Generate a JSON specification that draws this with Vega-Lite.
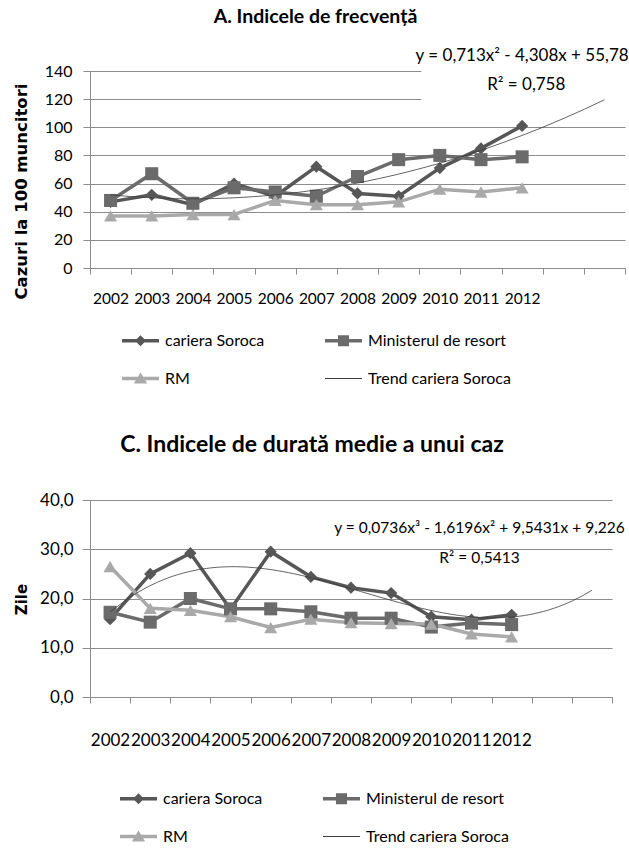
{
  "$schema": "https://vega.github.io/schema/vega-lite/v6.json",
  "background": "white",
  "padding": {"left": 12, "top": 7, "right": 0, "bottom": 0},
  "spacing": 47,
  "resolve": {"scale": {"color": "independent", "shape": "independent", "fill": "independent"}, "legend": {"color": "independent", "shape": "independent", "fill": "independent"}},
  "config": {
    "view": {"stroke": null},
    "font": "Lato",
    "axis": {"labelFont": "Lato", "labelColor": "#000000", "domainColor": "#8c8c8c", "tickColor": "#8c8c8c", "gridColor": "#8c8c8c", "gridOpacity": 1, "domainWidth": 1, "tickWidth": 1, "gridWidth": 1, "labelOverlap": false, "labelFlush": false, "tickCount": 30},
    "legend": {"labelFont": "Lato", "labelColor": "#000000"},
    "title": {"font": "Lato", "color": "#000000"},
    "text": {"font": "Lato"}
  },
  "datasets": {
    "a": [
      {"year": 2002, "series": "cariera Soroca", "value": 47},
      {"year": 2003, "series": "cariera Soroca", "value": 52},
      {"year": 2004, "series": "cariera Soroca", "value": 45},
      {"year": 2005, "series": "cariera Soroca", "value": 60},
      {"year": 2006, "series": "cariera Soroca", "value": 51},
      {"year": 2007, "series": "cariera Soroca", "value": 72},
      {"year": 2008, "series": "cariera Soroca", "value": 53},
      {"year": 2009, "series": "cariera Soroca", "value": 51},
      {"year": 2010, "series": "cariera Soroca", "value": 71},
      {"year": 2011, "series": "cariera Soroca", "value": 85},
      {"year": 2012, "series": "cariera Soroca", "value": 101},
      {"year": 2002, "series": "Ministerul de resort", "value": 48},
      {"year": 2003, "series": "Ministerul de resort", "value": 67},
      {"year": 2004, "series": "Ministerul de resort", "value": 46},
      {"year": 2005, "series": "Ministerul de resort", "value": 57},
      {"year": 2006, "series": "Ministerul de resort", "value": 54},
      {"year": 2007, "series": "Ministerul de resort", "value": 51},
      {"year": 2008, "series": "Ministerul de resort", "value": 65},
      {"year": 2009, "series": "Ministerul de resort", "value": 77},
      {"year": 2010, "series": "Ministerul de resort", "value": 80},
      {"year": 2011, "series": "Ministerul de resort", "value": 77},
      {"year": 2012, "series": "Ministerul de resort", "value": 79},
      {"year": 2002, "series": "RM", "value": 37},
      {"year": 2003, "series": "RM", "value": 37},
      {"year": 2004, "series": "RM", "value": 38},
      {"year": 2005, "series": "RM", "value": 38},
      {"year": 2006, "series": "RM", "value": 48},
      {"year": 2007, "series": "RM", "value": 45},
      {"year": 2008, "series": "RM", "value": 45},
      {"year": 2009, "series": "RM", "value": 47},
      {"year": 2010, "series": "RM", "value": 56},
      {"year": 2011, "series": "RM", "value": 54},
      {"year": 2012, "series": "RM", "value": 57}
    ],
    "c": [
      {"year": 2002, "series": "cariera Soroca", "value": 15.8},
      {"year": 2003, "series": "cariera Soroca", "value": 25.0},
      {"year": 2004, "series": "cariera Soroca", "value": 29.2},
      {"year": 2005, "series": "cariera Soroca", "value": 17.8},
      {"year": 2006, "series": "cariera Soroca", "value": 29.5},
      {"year": 2007, "series": "cariera Soroca", "value": 24.4},
      {"year": 2008, "series": "cariera Soroca", "value": 22.2},
      {"year": 2009, "series": "cariera Soroca", "value": 21.1},
      {"year": 2010, "series": "cariera Soroca", "value": 16.3},
      {"year": 2011, "series": "cariera Soroca", "value": 15.7},
      {"year": 2012, "series": "cariera Soroca", "value": 16.7},
      {"year": 2002, "series": "Ministerul de resort", "value": 17.2},
      {"year": 2003, "series": "Ministerul de resort", "value": 15.2},
      {"year": 2004, "series": "Ministerul de resort", "value": 20.0},
      {"year": 2005, "series": "Ministerul de resort", "value": 17.9},
      {"year": 2006, "series": "Ministerul de resort", "value": 17.9},
      {"year": 2007, "series": "Ministerul de resort", "value": 17.3},
      {"year": 2008, "series": "Ministerul de resort", "value": 16.0},
      {"year": 2009, "series": "Ministerul de resort", "value": 16.0},
      {"year": 2010, "series": "Ministerul de resort", "value": 14.2},
      {"year": 2011, "series": "Ministerul de resort", "value": 15.0},
      {"year": 2012, "series": "Ministerul de resort", "value": 14.7},
      {"year": 2002, "series": "RM", "value": 26.5},
      {"year": 2003, "series": "RM", "value": 18.0},
      {"year": 2004, "series": "RM", "value": 17.6},
      {"year": 2005, "series": "RM", "value": 16.3},
      {"year": 2006, "series": "RM", "value": 14.1},
      {"year": 2007, "series": "RM", "value": 15.8},
      {"year": 2008, "series": "RM", "value": 15.1},
      {"year": 2009, "series": "RM", "value": 14.9},
      {"year": 2010, "series": "RM", "value": 14.8},
      {"year": 2011, "series": "RM", "value": 12.8},
      {"year": 2012, "series": "RM", "value": 12.2}
    ]
  },
  "vconcat": [
    {
      "title": {"text": "A. Indicele de frecvență", "fontSize": 19.5, "fontWeight": "bold", "dx": -42, "offset": 19},
      "width": 535,
      "height": 197,
      "data": {"name": "a"},
      "layer": [
        {
          "data": {"values": [{}]},
          "mark": {"type": "rect", "color": "white"},
          "encoding": {
            "x": {"datum": 2009.55, "type": "quantitative", "scale": {"domain": [2001.5, 2014.5], "nice": false, "zero": false},
              "axis": {"values": [2001.5, 2002.5, 2003.5, 2004.5, 2005.5, 2006.5, 2007.5, 2008.5, 2009.5, 2010.5, 2011.5, 2012.5, 2013.5, 2014.5],
                "labelExpr": "datum.value < 2012 ? '' + (datum.value + 0.5) : ''", "labelOffset": 20.6, "tickSize": 6, "labelPadding": 17,
                "labelFontSize": 15.5, "grid": false, "title": null}},
            "x2": {"datum": 2014.6},
            "y": {"datum": 112, "type": "quantitative", "scale": {"domain": [0, 140], "nice": false},
              "axis": {"values": [0, 20, 40, 60, 80, 100, 120, 140], "tickSize": 7, "labelPadding": 11, "labelFontSize": 16, "grid": true,
                "title": "Cazuri la 100 muncitori", "titleFont": "DejaVu Sans", "titleFontSize": 16.5, "titleFontWeight": "bold",
                "titleX": -69, "titleY": 120, "titleAlign": "center", "titleBaseline": "middle"}},
            "y2": {"datum": 141}
          }
        },
        {
          "mark": {"type": "line", "strokeWidth": 3.5},
          "encoding": {
            "x": {"field": "year", "type": "quantitative"},
            "y": {"field": "value", "type": "quantitative"},
            "color": {"field": "series", "type": "nominal", "scale": {"domain": ["cariera Soroca", "Ministerul de resort", "RM"], "range": ["#575757", "#6b6b6b", "#a9a9a9"]}, "legend": null}
          }
        },
        {
          "transform": [{"filter": "datum.series === 'cariera Soroca'"}],
          "mark": {"type": "point", "shape": "diamond", "filled": true, "size": 150, "opacity": 1},
          "encoding": {"x": {"field": "year", "type": "quantitative"}, "y": {"field": "value", "type": "quantitative"}, "color": {"field": "series", "type": "nominal", "legend": null}}
        },
        {
          "transform": [{"filter": "datum.series === 'Ministerul de resort'"}],
          "mark": {"type": "point", "shape": "square", "filled": true, "size": 170, "opacity": 1},
          "encoding": {"x": {"field": "year", "type": "quantitative"}, "y": {"field": "value", "type": "quantitative"}, "color": {"field": "series", "type": "nominal", "legend": null}}
        },
        {
          "transform": [{"filter": "datum.series === 'RM'"}],
          "mark": {"type": "point", "shape": "triangle-up", "filled": true, "size": 170, "opacity": 1},
          "encoding": {"x": {"field": "year", "type": "quantitative"}, "y": {"field": "value", "type": "quantitative"}, "color": {"field": "series", "type": "nominal", "legend": null}}
        },
        {
          "transform": [{"filter": "datum.series === 'cariera Soroca'"}, {"regression": "value", "on": "year", "method": "poly", "order": 2, "extent": [2002, 2014]}],
          "mark": {"type": "line", "color": "#3c3c3c", "strokeWidth": 0.8},
          "encoding": {"x": {"field": "year", "type": "quantitative"}, "y": {"field": "value", "type": "quantitative"}}
        },
        {
          "data": {"values": [{}]},
          "mark": {"type": "text", "fontSize": 17, "color": "#000000"},
          "encoding": {"x": {"datum": 2012.0, "type": "quantitative"}, "y": {"datum": 151, "type": "quantitative"}, "text": {"value": "y = 0,713x² - 4,308x + 55,78"}}
        },
        {
          "data": {"values": [{}]},
          "mark": {"type": "text", "fontSize": 17, "color": "#000000"},
          "encoding": {"x": {"datum": 2012.1, "type": "quantitative"}, "y": {"datum": 130, "type": "quantitative"}, "text": {"value": "R² = 0,758"}}
        },
        {
          "transform": [{"filter": "false"}],
          "mark": {"type": "point", "filled": true, "size": 1369, "opacity": 1},
          "encoding": {
            "shape": {"field": "series", "type": "nominal",
              "scale": {"domain": ["cariera Soroca", "Ministerul de resort", "RM", "Trend cariera Soroca"],
                "range": ["M-1,-0.09H1V0.09H-1Z M0,-0.3L0.3,0L0,0.3L-0.3,0Z", "M-1,-0.09H1V0.09H-1Z M-0.3,-0.3H0.3V0.3H-0.3Z", "M-1,-0.09H1V0.09H-1Z M0,-0.33L0.36,0.27H-0.36Z", "M-1,-0.03H1V0.03H-1Z"]},
              "legend": {"title": null, "orient": "none", "direction": "horizontal", "legendX": 32, "legendY": 251, "columns": 2, "columnPadding": 60, "rowPadding": 11, "symbolSize": 1369, "labelFontSize": 16, "labelOffset": 6, "symbolStrokeWidth": 0}},
            "fill": {"field": "series", "type": "nominal",
              "scale": {"domain": ["cariera Soroca", "Ministerul de resort", "RM", "Trend cariera Soroca"], "range": ["#575757", "#6b6b6b", "#a9a9a9", "#3c3c3c"]},
              "legend": {"title": null, "orient": "none", "direction": "horizontal", "legendX": 32, "legendY": 251, "columns": 2, "columnPadding": 60, "rowPadding": 11, "symbolSize": 1369, "labelFontSize": 16, "labelOffset": 6, "symbolStrokeWidth": 0}}
          }
        }
      ]
    },
    {
      "title": {"text": "C. Indicele de durată medie a unui caz", "fontSize": 23, "fontWeight": "bold", "dx": -39, "offset": 34},
      "width": 522,
      "height": 197,
      "data": {"name": "c"},
      "layer": [
        {
          "mark": {"type": "line", "strokeWidth": 3.5},
          "encoding": {
            "x": {"field": "year", "type": "quantitative", "scale": {"domain": [2001.5, 2014.5], "nice": false, "zero": false},
              "axis": {"values": [2001.5, 2002.5, 2003.5, 2004.5, 2005.5, 2006.5, 2007.5, 2008.5, 2009.5, 2010.5, 2011.5, 2012.5, 2013.5, 2014.5],
                "labelExpr": "datum.value < 2012 ? '' + (datum.value + 0.5) : ''", "labelOffset": 20, "tickSize": 6, "labelPadding": 29,
                "labelFontSize": 17, "grid": false, "title": null}},
            "y": {"field": "value", "type": "quantitative", "scale": {"domain": [0, 40], "nice": false},
              "axis": {"values": [0, 10, 20, 30, 40], "labelExpr": "replace(format(datum.value, '.1f'), '.', ',')", "tickSize": 8, "labelPadding": 9, "labelFontSize": 17, "grid": true,
                "title": "Zile", "titleFont": "DejaVu Sans", "titleFontSize": 15, "titleFontWeight": "bold",
                "titleX": -69, "titleY": 99, "titleAlign": "center", "titleBaseline": "middle"}},
            "color": {"field": "series", "type": "nominal", "scale": {"domain": ["cariera Soroca", "Ministerul de resort", "RM"], "range": ["#575757", "#6b6b6b", "#a9a9a9"]}, "legend": null}
          }
        },
        {
          "transform": [{"filter": "datum.series === 'cariera Soroca'"}],
          "mark": {"type": "point", "shape": "diamond", "filled": true, "size": 150, "opacity": 1},
          "encoding": {"x": {"field": "year", "type": "quantitative"}, "y": {"field": "value", "type": "quantitative"}, "color": {"field": "series", "type": "nominal", "legend": null}}
        },
        {
          "transform": [{"filter": "datum.series === 'Ministerul de resort'"}],
          "mark": {"type": "point", "shape": "square", "filled": true, "size": 170, "opacity": 1},
          "encoding": {"x": {"field": "year", "type": "quantitative"}, "y": {"field": "value", "type": "quantitative"}, "color": {"field": "series", "type": "nominal", "legend": null}}
        },
        {
          "transform": [{"filter": "datum.series === 'RM'"}],
          "mark": {"type": "point", "shape": "triangle-up", "filled": true, "size": 170, "opacity": 1},
          "encoding": {"x": {"field": "year", "type": "quantitative"}, "y": {"field": "value", "type": "quantitative"}, "color": {"field": "series", "type": "nominal", "legend": null}}
        },
        {
          "transform": [{"filter": "datum.series === 'cariera Soroca'"}, {"regression": "value", "on": "year", "method": "poly", "order": 3, "extent": [2002, 2014]}],
          "mark": {"type": "line", "color": "#3c3c3c", "strokeWidth": 0.8},
          "encoding": {"x": {"field": "year", "type": "quantitative"}, "y": {"field": "value", "type": "quantitative"}}
        },
        {
          "data": {"values": [{}]},
          "mark": {"type": "text", "fontSize": 15.5, "color": "#000000"},
          "encoding": {"x": {"datum": 2011.2, "type": "quantitative"}, "y": {"datum": 34.3, "type": "quantitative"}, "text": {"value": "y = 0,0736x³ - 1,6196x² + 9,5431x + 9,226"}}
        },
        {
          "data": {"values": [{}]},
          "mark": {"type": "text", "fontSize": 15.5, "color": "#000000"},
          "encoding": {"x": {"datum": 2011.2, "type": "quantitative"}, "y": {"datum": 28.3, "type": "quantitative"}, "text": {"value": "R² = 0,5413"}}
        },
        {
          "transform": [{"filter": "false"}],
          "mark": {"type": "point", "filled": true, "size": 1369, "opacity": 1},
          "encoding": {
            "shape": {"field": "series", "type": "nominal",
              "scale": {"domain": ["cariera Soroca", "Ministerul de resort", "RM", "Trend cariera Soroca"],
                "range": ["M-1,-0.09H1V0.09H-1Z M0,-0.3L0.3,0L0,0.3L-0.3,0Z", "M-1,-0.09H1V0.09H-1Z M-0.3,-0.3H0.3V0.3H-0.3Z", "M-1,-0.09H1V0.09H-1Z M0,-0.33L0.36,0.27H-0.36Z", "M-1,-0.03H1V0.03H-1Z"]},
              "legend": {"title": null, "orient": "none", "direction": "horizontal", "legendX": 30, "legendY": 280, "columns": 2, "columnPadding": 60, "rowPadding": 11, "symbolSize": 1369, "labelFontSize": 16, "labelOffset": 6, "symbolStrokeWidth": 0}},
            "fill": {"field": "series", "type": "nominal",
              "scale": {"domain": ["cariera Soroca", "Ministerul de resort", "RM", "Trend cariera Soroca"], "range": ["#575757", "#6b6b6b", "#a9a9a9", "#3c3c3c"]},
              "legend": {"title": null, "orient": "none", "direction": "horizontal", "legendX": 30, "legendY": 280, "columns": 2, "columnPadding": 60, "rowPadding": 11, "symbolSize": 1369, "labelFontSize": 16, "labelOffset": 6, "symbolStrokeWidth": 0}}
          }
        }
      ]
    }
  ]
}
